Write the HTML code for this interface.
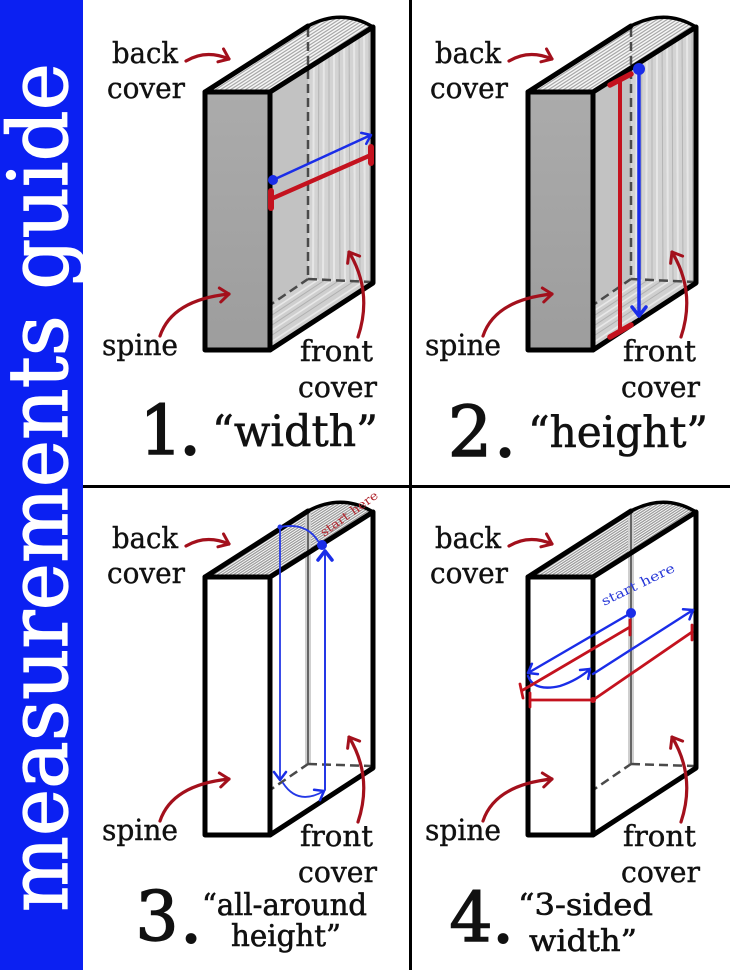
<!DOCTYPE html>
<html><head><meta charset="utf-8"><style>
html,body{margin:0;padding:0;background:#fff;}
svg{display:block;}
text{font-family:"DejaVu Serif","Liberation Serif",serif;fill:#111;}
</style></head><body>
<svg xmlns="http://www.w3.org/2000/svg" width="730" height="970" viewBox="0 0 730 970">
<defs>
  <marker id="mRed" viewBox="-12 -10 14 20" refX="0" refY="0" markerWidth="14" markerHeight="20" markerUnits="userSpaceOnUse" orient="auto">
    <path d="M-9,-7 L0,0 L-9,7" fill="none" stroke="#a3101c" stroke-width="3" stroke-linecap="round" stroke-linejoin="round"/>
  </marker>
  <marker id="mBlue" viewBox="-12 -10 14 20" refX="0" refY="0" markerWidth="14" markerHeight="20" markerUnits="userSpaceOnUse" orient="auto">
    <path d="M-8,-6 L0,0 L-8,6" fill="none" stroke="#1a2de8" stroke-width="2.5" stroke-linecap="round" stroke-linejoin="round"/>
  </marker>
  <marker id="mBlueB" viewBox="-12 -10 14 20" refX="0" refY="0" markerWidth="14" markerHeight="20" markerUnits="userSpaceOnUse" orient="auto">
    <path d="M-9,-7 L0,0 L-9,7" fill="none" stroke="#1a2de8" stroke-width="3.5" stroke-linecap="round" stroke-linejoin="round"/>
  </marker>
  <linearGradient id="spG" x1="0" y1="0" x2="0" y2="1">
    <stop offset="0" stop-color="#ababab"/><stop offset="1" stop-color="#9d9d9d"/>
  </linearGradient>
  <clipPath id="cTop"><path d="M205,92 L308,26 Q342,8 373,27 L270,92 Z"/></clipPath>
  <clipPath id="cFront"><polygon points="270,92 373,27 373,283 270,350"/></clipPath>
  <clipPath id="cBot"><polygon points="270,350 270,305 308,279 373,283"/></clipPath>

  <!-- gray book -->
  <g id="bookG">
    <polygon points="270,92 373,27 373,283 270,350" fill="#c2c2c2"/>
    <polygon points="308,68 373,27 373,283 308,279" fill="#d3d3d3"/>
    <g clip-path="url(#cFront)">
      <g stroke="#e6e6e6" stroke-width="2">
        <line x1="314" y1="20" x2="313" y2="285"/><line x1="324" y1="20" x2="323" y2="285"/>
        <line x1="334" y1="20" x2="334" y2="285"/><line x1="344" y1="20" x2="345" y2="285"/>
        <line x1="354" y1="20" x2="355" y2="285"/><line x1="364" y1="20" x2="365" y2="285"/>
      </g>
      <g stroke="#b4b4b4" stroke-width="1">
        <line x1="319" y1="20" x2="318" y2="285"/><line x1="329" y1="20" x2="329" y2="285"/>
        <line x1="339" y1="20" x2="340" y2="285"/><line x1="349" y1="20" x2="350" y2="285"/>
        <line x1="359" y1="20" x2="360" y2="285"/><line x1="369" y1="20" x2="370" y2="285"/>
      </g>
    </g>
    <g clip-path="url(#cBot)">
      <polygon points="270,350 270,305 308,279 373,283" fill="#cfcfcf"/>
      <g stroke="#e8e8e8" stroke-width="1.6">
        <line x1="260" y1="318" x2="330" y2="272"/><line x1="260" y1="328" x2="345" y2="272"/>
        <line x1="260" y1="338" x2="360" y2="272"/><line x1="262" y1="348" x2="375" y2="274"/>
      </g>
      <g stroke="#b0b0b0" stroke-width="1">
        <line x1="260" y1="323" x2="337" y2="272"/><line x1="260" y1="333" x2="352" y2="272"/>
        <line x1="260" y1="343" x2="368" y2="272"/>
      </g>
    </g>
    <path d="M205,92 L308,26 Q342,8 373,27 L270,92 Z" fill="#f6f6f6"/>
    <g clip-path="url(#cTop)" stroke="#a8a8a8" stroke-width="1.2">
      <line x1="181" y1="112" x2="345" y2="6"/><line x1="186" y1="112" x2="350" y2="6"/>
      <line x1="191" y1="112" x2="355" y2="6"/><line x1="196" y1="112" x2="360" y2="6"/>
      <line x1="201" y1="112" x2="365" y2="6"/><line x1="206" y1="112" x2="370" y2="6"/>
      <line x1="211" y1="112" x2="375" y2="6"/><line x1="216" y1="112" x2="380" y2="6"/>
      <line x1="221" y1="112" x2="385" y2="6"/><line x1="226" y1="112" x2="390" y2="6"/>
      <line x1="231" y1="112" x2="395" y2="6"/><line x1="236" y1="112" x2="400" y2="6"/>
    </g>
    <g stroke="#4a4a4a" stroke-width="2.5" stroke-dasharray="9,5" fill="none">
      <line x1="308" y1="28" x2="308" y2="279"/>
      <line x1="209" y1="347" x2="308" y2="279"/>
      <line x1="308" y1="279" x2="371" y2="282"/>
    </g>
    <rect x="205" y="92" width="65" height="258" fill="url(#spG)" stroke="#000" stroke-width="5" stroke-linejoin="round"/>
    <g fill="none" stroke="#000" stroke-width="5" stroke-linejoin="round" stroke-linecap="round">
      <path d="M205,92 L308,26"/>
      <path d="M270,92 L373,27 L373,283 L270,350"/>
    </g>
    <path d="M308,26 Q342,8 373,27" fill="none" stroke="#000" stroke-width="3.5"/>
  </g>

  <!-- white book -->
  <g id="bookW">
    <polygon points="270,92 373,27 373,283 270,350" fill="#fff"/>
    <path d="M205,92 L308,26 Q342,8 373,27 L270,92 Z" fill="#fff"/>
    <g clip-path="url(#cTop)" stroke="#9c9c9c" stroke-width="1.3">
      <line x1="179" y1="112" x2="343" y2="6"/><line x1="183" y1="112" x2="347" y2="6"/>
      <line x1="187" y1="112" x2="351" y2="6"/><line x1="191" y1="112" x2="355" y2="6"/>
      <line x1="195" y1="112" x2="359" y2="6"/><line x1="199" y1="112" x2="363" y2="6"/>
      <line x1="203" y1="112" x2="367" y2="6"/><line x1="207" y1="112" x2="371" y2="6"/>
      <line x1="211" y1="112" x2="375" y2="6"/><line x1="215" y1="112" x2="379" y2="6"/>
      <line x1="219" y1="112" x2="383" y2="6"/><line x1="223" y1="112" x2="387" y2="6"/>
      <line x1="227" y1="112" x2="391" y2="6"/><line x1="231" y1="112" x2="395" y2="6"/>
      <line x1="235" y1="112" x2="399" y2="6"/><line x1="239" y1="112" x2="403" y2="6"/>
    </g>
    <line x1="308" y1="28" x2="308" y2="279" stroke="#cfcfcf" stroke-width="6"/>
    <line x1="308" y1="28" x2="308" y2="279" stroke="#666" stroke-width="2"/>
    <g stroke="#4a4a4a" stroke-width="2.5" stroke-dasharray="9,5" fill="none">
      <line x1="209" y1="347" x2="308" y2="279"/>
      <line x1="308" y1="279" x2="371" y2="281"/>
    </g>
    <rect x="205" y="92" width="65" height="258" fill="#fff" stroke="#000" stroke-width="5" stroke-linejoin="round"/>
    <g fill="none" stroke="#000" stroke-width="5" stroke-linejoin="round" stroke-linecap="round">
      <path d="M205,92 L308,26"/>
      <path d="M270,92 L373,27 L373,283 L270,350"/>
    </g>
    <path d="M308,26 Q342,8 373,27" fill="none" stroke="#000" stroke-width="3.5"/>
  </g>

  <!-- red label arrows -->
  <g id="lbl" fill="none" stroke="#a3101c" stroke-width="3.2" stroke-linecap="round">
    <path d="M186,61 Q206,49 229,59" marker-end="url(#mRed)"/>
    <path d="M160,336 Q172,300 229,294" marker-end="url(#mRed)"/>
    <path d="M358,337 Q373,292 349,252" marker-end="url(#mRed)"/>
  </g>
</defs>

<rect x="0" y="0" width="730" height="970" fill="#fff"/>

<!-- blue sidebar -->
<rect x="0" y="0" width="83" height="970" fill="#0b20f2"/>
<text transform="translate(67,912) rotate(-90)" font-size="82" textLength="849" lengthAdjust="spacingAndGlyphs" style="fill:#fff;stroke:#fff;stroke-width:1.2">measurements guide</text>

<!-- dividers -->
<line x1="410.5" y1="0" x2="410.5" y2="970" stroke="#000" stroke-width="3"/>
<line x1="83" y1="486.5" x2="730" y2="486.5" stroke="#000" stroke-width="3"/>

<!-- books -->
<use href="#bookG" x="0" y="0"/>
<use href="#bookG" x="323" y="0"/>
<use href="#bookW" x="0" y="485"/>
<use href="#bookW" x="323" y="485"/>

<use href="#lbl" x="0" y="0"/>
<use href="#lbl" x="323" y="0"/>
<use href="#lbl" x="0" y="485"/>
<use href="#lbl" x="323" y="485"/>

<!-- panel 1 measurement -->
<line x1="273" y1="180" x2="371" y2="135" stroke="#1a2de8" stroke-width="2.5" marker-end="url(#mBlue)"/>
<circle cx="273" cy="180" r="5" fill="#1a2de8"/>
<g stroke="#c4121e" stroke-linecap="round">
  <line x1="271" y1="199" x2="371" y2="155" stroke-width="4.5"/>
  <line x1="271" y1="191" x2="271" y2="208" stroke-width="6"/>
  <line x1="371" y1="147" x2="371" y2="163" stroke-width="6"/>
</g>

<!-- panel 2 measurement -->
<g stroke="#c4121e" stroke-linecap="round">
  <line x1="620" y1="80" x2="620" y2="331" stroke-width="4"/>
  <line x1="610" y1="85" x2="631" y2="74" stroke-width="5.5"/>
  <line x1="610" y1="337" x2="631" y2="325" stroke-width="5.5"/>
</g>
<line x1="639" y1="69" x2="639" y2="316" stroke="#1a2de8" stroke-width="3.5" marker-end="url(#mBlueB)"/>
<circle cx="639" cy="69" r="6" fill="#1a2de8"/>

<!-- panel 3 measurement -->
<g fill="none" stroke="#2438e6" stroke-width="1.8" stroke-linecap="round">
  <path d="M318,541 Q306,522 280,527"/>
  <path d="M280,527 L280,780" marker-end="url(#mBlue)"/>
  <path d="M283,783 Q298,806 324,791" marker-end="url(#mBlue)"/>
  <path d="M325,790 L325,551" stroke-width="2" marker-end="url(#mBlueB)"/>
</g>
<circle cx="280" cy="527" r="2.5" fill="#2438e6"/>
<circle cx="322" cy="545" r="5" fill="#1a2de8"/>
<text transform="translate(324,537) rotate(-36)" font-size="12" textLength="68" lengthAdjust="spacingAndGlyphs" style="fill:#b0262e">start here</text>

<!-- panel 4 measurement -->
<g fill="none" stroke="#1a2de8" stroke-width="2.4" stroke-linecap="round">
  <path d="M631,613 L528,673" marker-end="url(#mBlue)"/>
  <path d="M528,676 Q534,692 560,686 Q578,680 590,669" marker-end="url(#mBlue)"/>
  <path d="M593,674 L693,610" marker-end="url(#mBlue)"/>
</g>
<circle cx="631" cy="613" r="5" fill="#1a2de8"/>
<g stroke="#c4121e" stroke-width="2.8" stroke-linecap="round" fill="none">
  <line x1="630" y1="627" x2="523" y2="690"/>
  <line x1="630" y1="620" x2="630" y2="635"/>
  <line x1="520" y1="684" x2="523" y2="698"/>
  <line x1="530" y1="700" x2="593" y2="700"/>
  <line x1="530" y1="693" x2="530" y2="707"/>
  <line x1="593" y1="700" x2="692" y2="632"/>
  <line x1="692" y1="625" x2="692" y2="640"/>
</g>
<circle cx="593" cy="700" r="3" fill="#c4121e"/>
<text transform="translate(604,606) rotate(-26)" font-size="13" textLength="80" lengthAdjust="spacingAndGlyphs" style="fill:#2a3ad8">start here</text>

<!-- labels -->
<g font-size="29" style="stroke:#111;stroke-width:0.4">
  <text x="112" y="63" textLength="66" lengthAdjust="spacingAndGlyphs">back</text>
  <text x="107" y="98" textLength="78" lengthAdjust="spacingAndGlyphs">cover</text>
  <text x="102" y="355" textLength="76" lengthAdjust="spacingAndGlyphs">spine</text>
  <text x="300" y="361" textLength="73" lengthAdjust="spacingAndGlyphs">front</text>
  <text x="298" y="397" textLength="79" lengthAdjust="spacingAndGlyphs">cover</text>

  <text x="435" y="63" textLength="66" lengthAdjust="spacingAndGlyphs">back</text>
  <text x="430" y="98" textLength="78" lengthAdjust="spacingAndGlyphs">cover</text>
  <text x="425" y="355" textLength="76" lengthAdjust="spacingAndGlyphs">spine</text>
  <text x="623" y="361" textLength="73" lengthAdjust="spacingAndGlyphs">front</text>
  <text x="621" y="397" textLength="79" lengthAdjust="spacingAndGlyphs">cover</text>

  <text x="112" y="548" textLength="66" lengthAdjust="spacingAndGlyphs">back</text>
  <text x="107" y="583" textLength="78" lengthAdjust="spacingAndGlyphs">cover</text>
  <text x="102" y="840" textLength="76" lengthAdjust="spacingAndGlyphs">spine</text>
  <text x="300" y="846" textLength="73" lengthAdjust="spacingAndGlyphs">front</text>
  <text x="298" y="882" textLength="79" lengthAdjust="spacingAndGlyphs">cover</text>

  <text x="435" y="548" textLength="66" lengthAdjust="spacingAndGlyphs">back</text>
  <text x="430" y="583" textLength="78" lengthAdjust="spacingAndGlyphs">cover</text>
  <text x="425" y="840" textLength="76" lengthAdjust="spacingAndGlyphs">spine</text>
  <text x="623" y="846" textLength="73" lengthAdjust="spacingAndGlyphs">front</text>
  <text x="621" y="882" textLength="79" lengthAdjust="spacingAndGlyphs">cover</text>
</g>

<!-- titles -->
<g style="stroke:#111;stroke-width:1.4">
  <text x="161" y="454" font-size="68" text-anchor="middle">1</text>
  <text x="470" y="456" font-size="70" text-anchor="middle">2</text>
  <text x="157" y="940" font-size="68" text-anchor="middle">3</text>
  <text x="471" y="941" font-size="68" text-anchor="middle">4</text>
</g>
<g style="stroke:#111;stroke-width:2">
  <text x="190" y="454" font-size="68" text-anchor="middle">.</text>
  <text x="505" y="456" font-size="68" text-anchor="middle">.</text>
  <text x="191" y="942" font-size="68" text-anchor="middle">.</text>
  <text x="503" y="942" font-size="68" text-anchor="middle">.</text>
</g>
<g style="stroke:#111;stroke-width:0.6">
  <text x="212" y="446" font-size="43" textLength="166" lengthAdjust="spacingAndGlyphs">“width”</text>
  <text x="528" y="447" font-size="43" textLength="180" lengthAdjust="spacingAndGlyphs">“height”</text>
  <text x="202" y="915" font-size="30" textLength="165" lengthAdjust="spacingAndGlyphs">“all-around</text>
  <text x="231" y="946" font-size="30" textLength="110" lengthAdjust="spacingAndGlyphs">height”</text>
  <text x="518" y="915" font-size="30" textLength="135" lengthAdjust="spacingAndGlyphs">“3-sided</text>
  <text x="529" y="951" font-size="30" textLength="108" lengthAdjust="spacingAndGlyphs">width”</text>
</g>
</svg>
</body></html>
